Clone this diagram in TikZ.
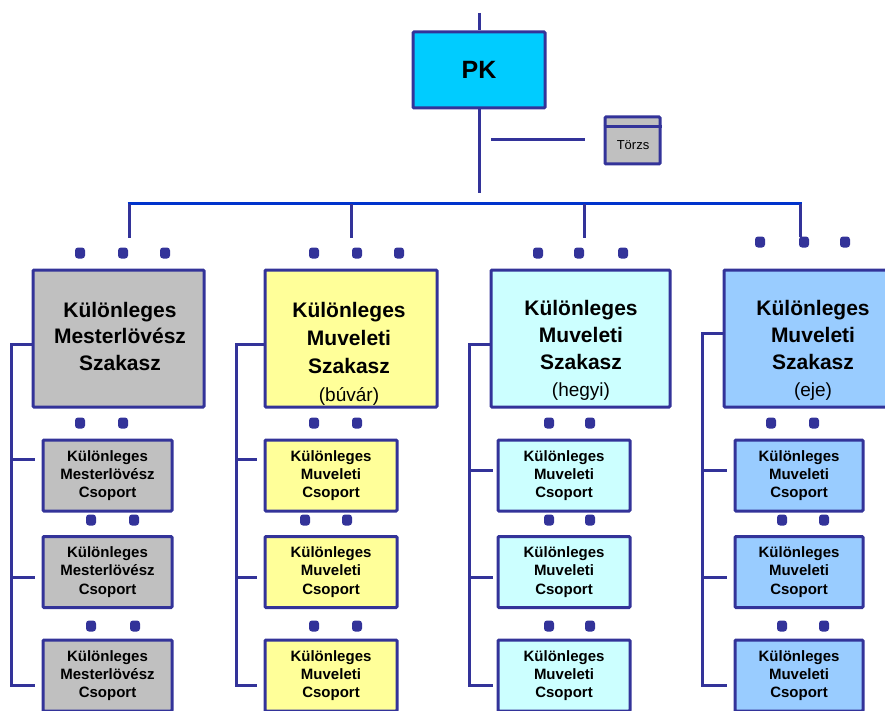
\documentclass[tikz,border=0pt]{standalone}
\usepackage{fontspec}
\setmainfont{Liberation Sans}
\definecolor{navy}{HTML}{333399}
\definecolor{busblue}{HTML}{0033CC}
\definecolor{pkfill}{HTML}{00CCFF}
\definecolor{cgray}{HTML}{C0C0C0}
\definecolor{cyellow}{HTML}{FFFF99}
\definecolor{ccyan}{HTML}{CCFFFF}
\definecolor{cblue}{HTML}{99CCFF}
\begin{document}
\begin{tikzpicture}[x=1pt,y=-1pt,
  boxline/.style={draw=navy,line width=3pt,rounded corners=1pt},
  mainbox/.style={boxline,minimum width=171pt,minimum height=137pt,inner sep=0pt},
  subbox/.style={boxline,minimum width=129pt,minimum height=71pt,inner sep=0pt,
     font=\fontsize{15}{18.3}\selectfont\bfseries,align=center},
  maintext/.style={anchor=north,inner sep=0pt,align=center,font=\fontsize{21}{26.5}\selectfont\bfseries},
  conn/.style={draw=navy,line width=3pt},
  bus/.style={draw=busblue,line width=3pt},
  blob/.style={fill=navy,rounded corners=3pt,minimum width=10pt,minimum height=11pt,inner sep=0pt}]
\useasboundingbox (0,0) rectangle (885,711);
\begin{scope}
\clip (0,0) rectangle (885,711);
% PK
\coordinate (pktop) at (479,13);
\node[boxline,fill=pkfill,minimum width=132pt,minimum height=76pt,inner sep=0pt,
  font=\fontsize{25}{30}\selectfont\bfseries] (pk) at (479,70) {PK};
\draw[conn] (pktop) -- (pk.north);
\coordinate (pkbot) at (479,193);
\draw[conn] (pk.south) -- (pkbot);
% Torzs
\node[boxline,fill=cgray,minimum width=55pt,minimum height=47pt,inner sep=0pt] (torzs) at (632.5,140.5) {};
\draw[draw=navy,line width=2.5pt] ([yshift=-11pt]torzs.north west) -- ([yshift=-11pt]torzs.north east);
\node[inner sep=0pt,font=\fontsize{13}{15}\selectfont] (torzst) at (633,145) {Törzs};
\coordinate (tl) at (491,140);
\coordinate (tr) at (585,140);
\draw[conn] (tl) -- (tr);
% bus
\coordinate (b1) at (129,204);
\coordinate (b2) at (351,204);
\coordinate (b3) at (584,204);
\coordinate (b4) at (800,204);
\draw[bus] ([xshift=-1.5pt]b1) -- ([xshift=1.5pt]b4);
\draw[conn] (b1) -- (129,238);
\draw[conn] (b2) -- (351,238);
\draw[conn] (b3) -- (584,238);
\draw[conn] (b4) -- (800,237);
% main boxes
\node[mainbox,fill=cgray] (m1) at (118.5,338.5) {};
\node[mainbox,fill=cyellow,minimum width=172pt] (m2) at (351,338.5) {};
\node[mainbox,fill=ccyan,minimum width=179pt] (m3) at (580.5,338.5) {};
\node[mainbox,fill=cblue,minimum width=179pt] (m4) at (813.5,338.5) {};
\node[maintext] (t1) at (120,302) {Különleges\\Mesterlövész\\Szakasz};
\node[maintext,font=\fontsize{21}{28}\selectfont\bfseries] (t2) at (349,302) {Különleges\\Muveleti\\Szakasz\\{\fontsize{19}{28}\selectfont\mdseries(búvár)}};
\node[maintext,font=\fontsize{21}{27}\selectfont\bfseries] (t3) at (581,300) {Különleges\\Muveleti\\Szakasz\\{\fontsize{19}{27}\selectfont\mdseries(hegyi)}};
\node[maintext,font=\fontsize{21}{27}\selectfont\bfseries] (t4) at (813,300) {Különleges\\Muveleti\\Szakasz\\{\fontsize{19}{27}\selectfont\mdseries(eje)}};
% sub boxes
\foreach \c/\x/\w/\col/\s in {1/107.5/129/cgray/{Különleges\\Mesterlövész\\Csoport},
                              2/331/132/cyellow/{Különleges\\Muveleti\\Csoport},
                              3/564/132/ccyan/{Különleges\\Muveleti\\Csoport},
                              4/799/128/cblue/{Különleges\\Muveleti\\Csoport}}{
  \node[subbox,fill=\col,minimum width=\w pt] (s\c a) at (\x,475.5) {\s};
  \node[subbox,fill=\col,minimum width=\w pt] (s\c b) at (\x,572) {\s};
  \node[subbox,fill=\col,minimum width=\w pt] (s\c c) at (\x,675.5) {\s};
}
% brackets
\coordinate (k1) at (11,344);
\coordinate (k2) at (236,344);
\coordinate (k3) at (469,344);
\coordinate (k4) at (702,333);
\draw[conn] (m1.west |- k1) -- (k1) -- (11,685) -- (35,685);
\draw[conn] (11,459) -- (35,459);
\draw[conn] (11,577) -- (35,577);
\draw[conn] (m2.west |- k2) -- (k2) -- (236,685) -- (257,685);
\draw[conn] (236,459) -- (257,459);
\draw[conn] (236,577) -- (257,577);
\draw[conn] (m3.west |- k3) -- (k3) -- (469,685) -- (493,685);
\draw[conn] (469,470) -- (493,470);
\draw[conn] (469,577) -- (493,577);
\draw[conn] (m4.west |- k4) -- (k4) -- (702,685) -- (727,685);
\draw[conn] (702,470) -- (727,470);
\draw[conn] (702,577) -- (727,577);
% blobs
\foreach \x/\y in {80/253,123/253,165/253, 314/253,357/253,399/253,
                   538/253,579/253,623/253, 760/242,804/242,845/242,
                   80/423,123/423, 314/423,357/423, 549/423,590/423, 771/423,814/423,
                   91/520,134/520, 305/520,347/520, 549/520,590/520, 782/520,824/520,
                   91/626,135/626, 314/626,357/626, 549/626,590/626, 782/626,824/626}{
  \node[blob] at (\x,\y) {};
}
\end{scope}
\end{tikzpicture}
\end{document}
